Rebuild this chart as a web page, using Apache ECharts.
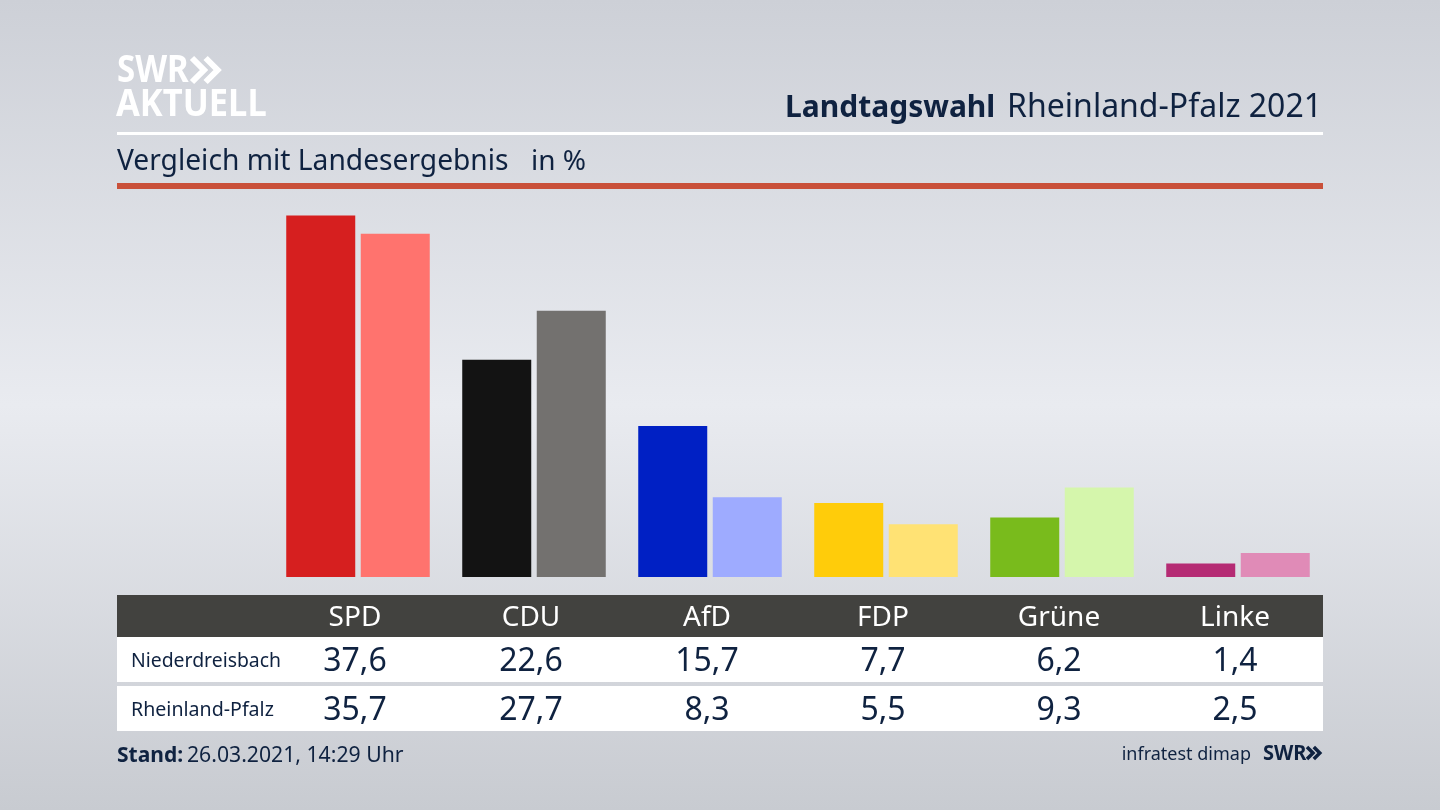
<!DOCTYPE html>
<html>
<head>
<meta charset="utf-8">
<title>Landtagswahl Rheinland-Pfalz 2021</title>
<script src="https://cdn.jsdelivr.net/npm/echarts@6/dist/echarts.min.js"></script>
<style>
html, body { margin: 0; padding: 0; }
#main { width: 1440px; height: 810px; }
</style>
</head>
<body>
<div id="main"></div>
<script>
var parties = ['SPD', 'CDU', 'AfD', 'FDP', 'Grüne', 'Linke'];
var localName = 'Niederdreisbach';
var stateName = 'Rheinland-Pfalz';
var localValues = [37.6, 22.6, 15.7, 7.7, 6.2, 1.4];
var stateValues = [35.7, 27.7, 8.3, 5.5, 9.3, 2.5];
var localColors = ['#d61f1f', '#131313', '#0020c4', '#ffcc0a', '#79bb1c', '#b52b74'];
var stateColors = ['#ff736e', '#73716f', '#9eabff', '#ffe274', '#d5f6ac', '#e08bb7'];

var FONT = '"Noto Sans", sans-serif';
var NAVY = '#0f2240';
// die Balken stehen etwas rechts von den Tabellenspalten
var BAR_SHIFT = 3;

function fmt(v) {
    return v.toFixed(1).replace('.', ',');
}

function coloured(values, colors) {
    return values.map(function (v, i) {
        return {value: v, itemStyle: {color: colors[i]}};
    });
}

function text(x, y, str, size, fill, align, weight, scaleY) {
    return {
        type: 'text',
        x: x,
        y: y,
        scaleY: scaleY || 1,
        style: {
            text: str,
            font: (weight || 'normal') + ' ' + size + 'px ' + FONT,
            fill: fill,
            align: align || 'left',
            verticalAlign: 'middle'
        }
    };
}

function rect(x, y, w, h, fill) {
    return {type: 'rect', shape: {x: x, y: y, width: w, height: h}, style: {fill: fill}, silent: true};
}

function chevrons(x, y, size, stroke, width) {
    var list = [];
    for (var i = 0; i < 2; i++) {
        list.push({
            type: 'polyline',
            shape: {points: [[x + i * size * 0.85, y], [x + i * size * 0.85 + size * 0.75, y + size * 0.75], [x + i * size * 0.85, y + size * 1.5]]},
            style: {stroke: stroke, lineWidth: width, fill: null}
        });
    }
    return list;
}

var myChart = echarts.init(document.getElementById('main'));
var option = {
    animation: false,
    backgroundColor: new echarts.graphic.LinearGradient(0, 0, 0, 1, [
        {offset: 0, color: '#cdd0d7'},
        {offset: 0.5, color: '#e9ebf0'},
        {offset: 1, color: '#c8cbd1'}
    ]),
    grid: {left: 267 + BAR_SHIFT, right: 117 - BAR_SHIFT, top: 192.5, height: 384.5},
    xAxis: {
        type: 'category',
        data: parties,
        axisLine: {show: false},
        axisTick: {show: false},
        axisLabel: {show: false}
    },
    yAxis: {
        type: 'value',
        min: 0,
        max: 40,
        show: false,
        splitLine: {show: false}
    },
    series: [
        {name: localName, type: 'bar', barWidth: 69, barGap: '8%', data: coloured(localValues, localColors)},
        {name: stateName, type: 'bar', barWidth: 69, barGap: '8%', data: coloured(stateValues, stateColors)}
    ]
};
myChart.setOption(option);

// Kopf, Tabelle und Fusszeile
var items = [
    rect(117, 132, 1206, 3, '#ffffff'),
    rect(117, 183, 1206, 6, '#c9503a'),
    rect(117, 595, 1206, 42, '#42423f'),
    rect(117, 637, 1206, 45, '#ffffff'),
    rect(117, 686, 1206, 45, '#ffffff'),
    text(117, 71, 'SWR', 33, '#ffffff', 'left', 'bold', 1.12),
    text(116, 105, 'AKTUELL', 34.5, '#ffffff', 'left', 'bold', 1.08),
    text(785, 108, 'Landtagswahl', 30, NAVY, 'left', 'bold'),
    text(1322, 108, 'Rheinland-Pfalz 2021', 32, NAVY, 'right'),
    text(117, 162, 'Vergleich mit Landesergebnis', 28.2, NAVY),
    text(531, 162, 'in %', 28, NAVY),
    text(131, 661, localName, 19.4, NAVY),
    text(131, 710, stateName, 19.6, NAVY),
    text(117, 756, 'Stand:', 21, NAVY, 'left', 'bold'),
    text(187, 756, '26.03.2021, 14:29 Uhr', 21.2, NAVY),
    text(1251, 755, 'infratest dimap', 18, NAVY, 'right'),
    text(1263, 754, 'SWR', 20, NAVY, 'left', 'bold', 1.1)
];
items = items.concat(chevrons(192, 58, 16, '#ffffff', 6));
items = items.concat(chevrons(1307, 747, 8, NAVY, 3.5));

parties.forEach(function (name, i) {
    var cx = myChart.convertToPixel({xAxisIndex: 0}, i) - BAR_SHIFT;
    items.push(text(cx, 618, name, 28, '#ffffff', 'center'));
    items.push(text(cx, 662, fmt(localValues[i]), 32, NAVY, 'center'));
    items.push(text(cx, 711, fmt(stateValues[i]), 32, NAVY, 'center'));
});

myChart.setOption({graphic: {elements: items}});
</script>
</body>
</html>
